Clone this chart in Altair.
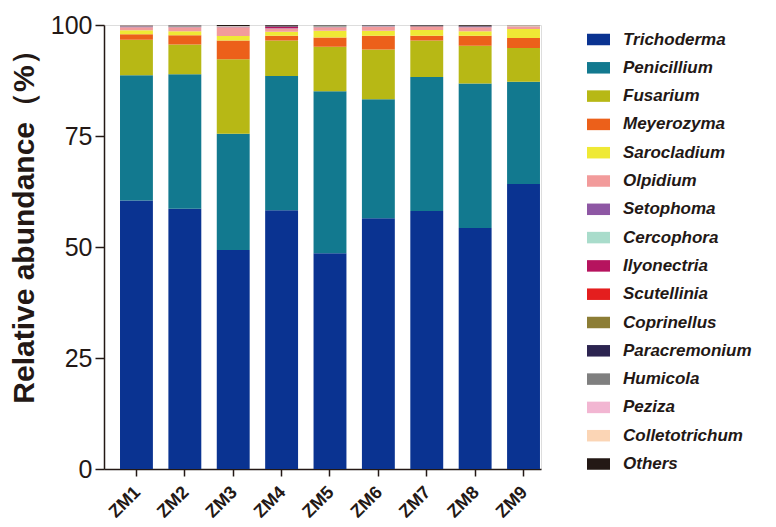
import altair as alt
import pandas as pd

samples = ["ZM1", "ZM2", "ZM3", "ZM4", "ZM5", "ZM6", "ZM7", "ZM8", "ZM9"]

taxa = ["Trichoderma", "Penicillium", "Fusarium", "Meyerozyma", "Sarocladium",
        "Olpidium", "Setophoma", "Cercophora", "Ilyonectria", "Scutellinia",
        "Coprinellus", "Paracremonium", "Humicola", "Peziza", "Colletotrichum", "Others"]

colors = ["#0a3391", "#12798f", "#b7b815", "#ec601a", "#efe935",
          "#f29b9b", "#8e57a4", "#a9dccb", "#b6135e", "#e41e1e",
          "#8c7d35", "#2c2450", "#7f7f7f", "#f2b6d2", "#fbd5b5", "#231815"]

Trichoderma    = [60.5, 58.6, 49.3, 58.3, 48.6, 56.5, 58.1, 54.3, 64.2]
Penicillium    = [28.2, 30.3, 26.2, 30.2, 36.5, 26.8, 30.2, 32.5, 23.0]
Fusarium       = [8.0, 6.7, 16.8, 8.0, 10.0, 11.2, 8.2, 8.5, 7.6]
Meyerozyma     = [1.2, 2.1, 4.2, 1.1, 2.1, 3.1, 1.1, 2.3, 2.3]
Sarocladium    = [0.9, 0.9, 1.0, 0.9, 1.5, 1.1, 1.3, 1.0, 2.0]
Olpidium       = [0.7, 0.9, 2.0, 0.7, 0.8, 0.85, 0.7, 0.9, 0.6]
Setophoma      = [0.05, 0.03, 0.05, 0.05, 0.03, 0.03, 0.03, 0.03, 0.03]
Cercophora     = [0.05, 0.05, 0.03, 0.03, 0.05, 0.15, 0.03, 0.03, 0.03]
Ilyonectria    = [0.05, 0.02, 0.02, 0.3, 0.02, 0.02, 0.02, 0.02, 0.02]
Scutellinia    = [0.02, 0.02, 0.02, 0.05, 0.02, 0.02, 0.02, 0.02, 0.02]
Coprinellus    = [0.02, 0.02, 0.02, 0.02, 0.02, 0.02, 0.02, 0.02, 0.02]
Paracremonium  = [0.02, 0.1, 0.05, 0.1, 0.03, 0.03, 0.1, 0.1, 0.03]
Humicola       = [0.1, 0.15, 0.05, 0.05, 0.25, 0.1, 0.05, 0.05, 0.1]
Peziza         = [0.05, 0.03, 0.02, 0.03, 0.03, 0.02, 0.02, 0.02, 0.02]
Colletotrichum = [0.1, 0.03, 0.02, 0.02, 0.02, 0.02, 0.02, 0.02, 0.02]
Others         = [0.04, 0.05, 0.22, 0.15, 0.03, 0.04, 0.09, 0.19, 0.01]

series = [Trichoderma, Penicillium, Fusarium, Meyerozyma, Sarocladium, Olpidium,
          Setophoma, Cercophora, Ilyonectria, Scutellinia, Coprinellus,
          Paracremonium, Humicola, Peziza, Colletotrichum, Others]

rows = []
for k, (name, vals) in enumerate(zip(taxa, series)):
    for s, v in zip(samples, vals):
        rows.append({"Sample": s, "Taxon": name, "Value": v, "idx": k})
df = pd.DataFrame(rows)

FONT = "Liberation Sans"
INK = "#231815"

chart = alt.Chart(df).mark_bar().encode(
    x=alt.X("Sample:N", sort=samples,
            scale=alt.Scale(paddingInner=0.32, paddingOuter=0.176, align=0.94),
            axis=alt.Axis(title=None, labelAngle=-45, labelFontSize=18,
                          labelFontWeight="bold", labelColor=INK, labelFont=FONT,
                          tickSize=7, tickWidth=1.5, tickColor=INK,
                          domainColor=INK, domainWidth=1.5, labelPadding=7,
                          labelOffset=-5)),
    y=alt.Y("Value:Q", stack="zero",
            scale=alt.Scale(domain=[0, 100], nice=False),
            axis=alt.Axis(values=[0, 25, 50, 75, 100], grid=False,
                          title="Relative abundance（%）",
                          titleFont=FONT, titleFontSize=30, titleFontWeight="bold",
                          titleColor=INK, titleX=-80, titleY=194, titleAngle=-90,
                          titleAlign="center", titleBaseline="middle",
                          labelFont=FONT, labelFontSize=25, labelColor=INK,
                          labelPadding=3, tickSize=9, tickWidth=1.5, tickColor=INK,
                          domainColor=INK, domainWidth=1.5)),
    color=alt.Color("Taxon:N",
                    scale=alt.Scale(domain=taxa, range=colors),
                    legend=alt.Legend(title=None, orient="none", legendX=483, legendY=3,
                                      symbolType="M-1,-0.5L1,-0.5L1,0.5L-1,0.5Z",
                                      symbolSize=529, symbolStrokeWidth=0,
                                      symbolOpacity=1,
                                      labelFont=FONT, labelFontSize=17,
                                      labelFontStyle="italic", labelFontWeight="bold",
                                      labelColor=INK, labelOffset=13, rowPadding=8.3,
                                      labelLimit=300, symbolLimit=0)),
    order=alt.Order("idx:Q", sort="ascending"),
).properties(
    width=437, height=444,
    autosize=alt.AutoSizeParams(type="none"),
    padding={"left": 96, "top": 17, "right": 220, "bottom": 54},
).configure_view(stroke=None).configure(background="white")

chart.save("out.html", embed_options={"renderer": "svg", "actions": False})
